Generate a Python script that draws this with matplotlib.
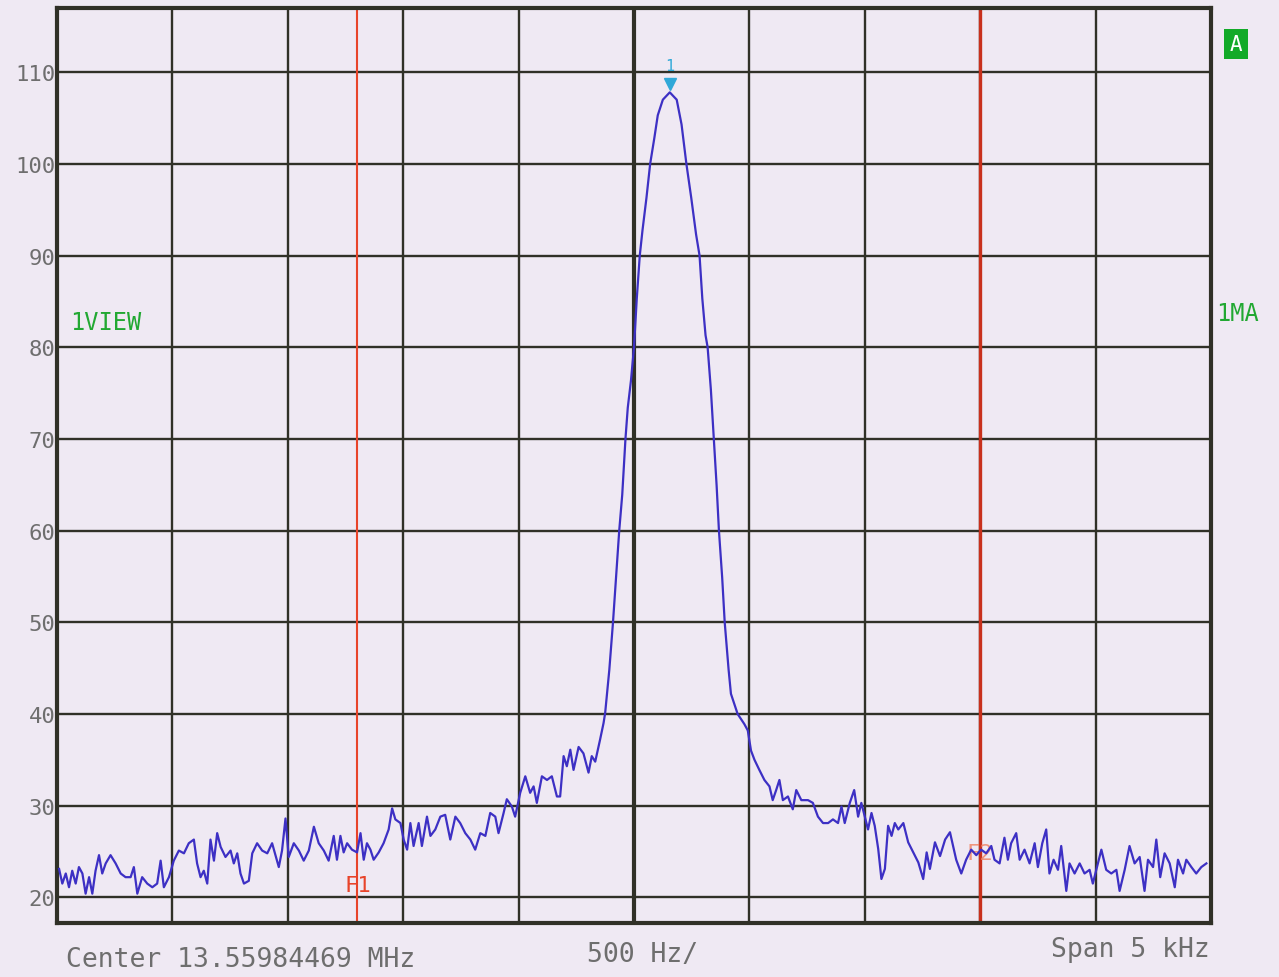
import matplotlib
matplotlib.use("Agg")
import matplotlib.pyplot as plt

# ---- data (offset from center frequency in Hz, level in dB) ----
freq_hz = [
    -2491, -2477, -2462, -2448, -2434, -2419, -2405, -2390, -2376, -2361, -2347, -2333, -2318, -2304, -2289,
    -2268, -2246, -2224, -2203, -2181, -2167, -2152, -2131, -2109, -2087, -2066, -2051, -2037, -2015, -1994,
    -1972, -1950, -1929, -1907, -1893, -1878, -1864, -1849, -1835, -1820, -1806, -1791, -1770, -1748, -1734,
    -1719, -1705, -1690, -1669, -1654, -1633, -1611, -1589, -1568, -1539, -1525, -1510, -1496, -1474, -1452,
    -1431, -1409, -1387, -1366, -1344, -1323,
    -1301, -1287, -1272, -1258, -1243, -1222, -1200, -1185, -1171, -1157, -1142, -1128, -1106, -1085, -1063,
    -1048, -1034, -1012, -998, -983, -969, -955, -933, -919, -897, -882, -861, -839, -818, -796, -774, -753,
    -731, -709, -688, -666, -644, -623, -601, -587, -565, -551, -529, -515, -493, -471, -450, -435, -421,
    -399, -377, -356, -334, -320, -305, -291, -276, -262, -240, -219, -197, -183, -168, -147, -132, -125,
    -107, -91, -78, -64, -51, -37, -27, -13, 0, 12, 25, 37, 54, 70, 88, 103, 125, 155, 185, 206, 227, 248,
    269, 284, 296, 310, 319, 333, 346, 358, 368, 382, 393, 410,
    420, 449, 478, 493, 507, 522, 543, 565, 587, 601, 616, 630, 645, 667, 688, 703, 725, 754, 775, 797, 819,
    841, 862, 884, 899, 913, 935, 954, 971, 985, 1000, 1014, 1029, 1043, 1058, 1072, 1087, 1101, 1116, 1130,
    1145, 1167, 1188, 1210, 1232, 1253, 1268, 1282, 1304, 1326, 1348, 1369,
    1396, 1418, 1439, 1461, 1483, 1504, 1526, 1548, 1562, 1584, 1605, 1620, 1634, 1656, 1671, 1692, 1714,
    1736, 1750, 1769, 1786, 1800, 1818, 1837, 1851, 1873, 1887, 1909, 1931, 1952, 1974, 1988, 2010, 2025,
    2046, 2068, 2090, 2104, 2126, 2147, 2169, 2191, 2212, 2227, 2249, 2263, 2280, 2299, 2321, 2343, 2357,
    2379, 2393, 2415, 2436, 2458, 2480,
]
level_db = [
    23.1, 21.5, 22.6, 21.1, 22.9, 21.5, 23.3, 22.6, 20.4, 22.2, 20.4, 22.9, 24.6, 22.6, 23.7,
    24.6, 23.7, 22.6, 22.2, 22.2, 23.3, 20.4, 22.2, 21.5, 21.1, 21.5, 24.0, 21.1, 22.2, 24.0,
    25.1, 24.8, 25.9, 26.3, 23.7, 22.2, 22.9, 21.5, 26.3, 24.0, 27.0, 25.5, 24.4, 25.1, 23.7,
    24.8, 22.6, 21.5, 21.8, 24.8, 25.9, 25.1, 24.8, 25.9, 23.3, 25.1, 28.6, 24.4, 25.9, 25.1,
    24.0, 25.1, 27.7, 25.9, 25.1, 24.0,
    26.7, 24.1, 26.7, 24.9, 25.9, 25.2, 24.9, 27.0, 24.1, 25.9, 25.2, 24.1, 24.9, 25.9, 27.4,
    29.7, 28.5, 28.1, 26.3, 25.2, 28.1, 25.6, 28.1, 25.6, 28.8, 26.7, 27.4, 28.8, 29.0, 26.3, 28.8, 28.1,
    27.0, 26.3, 25.2, 27.0, 26.7, 29.2, 28.8, 27.0, 29.2, 30.7, 29.9, 28.8, 31.4, 33.2, 31.4, 32.1, 30.3,
    33.2, 32.8, 33.2, 31.0, 31.0, 35.4, 34.3, 36.1, 33.9, 36.4, 35.7, 33.6, 35.4, 34.8, 37.2, 39.0, 40.1,
    44.8, 50.0, 54.9, 60.0, 63.9, 70.0, 73.4, 76.4, 80.0, 85.3, 90.0, 92.8, 96.3, 100.0, 102.8, 105.3, 107.0,
    107.8, 107.0, 104.3, 100.0, 96.3,
    92.3, 90.0, 85.3, 81.3, 80.0, 75.4, 70.0, 64.9, 60.0, 54.9, 50.0, 44.8,
    42.2, 40.0, 38.9, 38.2, 36.0, 35.0, 33.9, 32.8, 32.1, 30.6, 31.7, 32.8, 30.6, 31.0, 29.6, 31.7, 30.6,
    30.6, 30.3, 28.8, 28.1, 28.1, 28.5, 28.1, 29.9, 28.1, 30.3, 31.7, 28.8, 30.3, 28.8, 27.4, 29.2, 27.8,
    25.3, 22.0, 23.1, 27.8, 26.7, 28.1, 27.4, 28.1, 26.0, 24.9, 23.8, 22.0, 24.9, 23.1, 26.0, 24.5, 26.3,
    27.1,
    24.1, 22.6, 24.1, 25.2, 24.6, 25.2, 24.8, 25.6, 24.1, 23.7, 26.5, 24.1, 25.9, 27.0, 24.1, 25.2, 23.7,
    25.9, 23.3, 25.9, 27.4, 22.6, 24.1, 23.0, 25.6, 20.7, 23.7, 22.6, 23.7, 22.6, 23.0, 21.5, 23.7, 25.2,
    23.0, 22.6, 23.0, 20.7, 23.0, 25.6, 23.7, 24.4, 20.7, 24.1, 23.3, 26.3, 22.2, 24.8, 23.7, 21.1, 24.1,
    22.6, 24.1, 23.3, 22.6, 23.3, 23.7,
]
y_ticks = [20, 30, 40, 50, 60, 70, 80, 90, 100, 110]
x_grid_hz = [-2500, -2000, -1500, -1000, -500, 0, 500, 1000, 1500, 2000, 2500]
marker_f1_hz = -1200
marker_f2_hz = 1500
peak_hz = 155
peak_db = 107.8

# ---- style ----
paper = '#efe9f3'
grid_c = '#303027'
trace_c = '#3d30c4'
text_gray = '#6e6e6e'
green = '#22a832'
red = '#e8442a'
mono = ['DejaVu Sans Mono']

fig = plt.figure(figsize=(12.79, 9.78), dpi=100, facecolor=paper)
ax = fig.add_axes([57/1279, 1 - 924/978, (1211 - 57)/1279, (924 - 9)/978])
ax.set_facecolor(paper)
ax.set_xlim(-2500, 2500)
ax.set_ylim(17.2, 117.0)

for yv in y_ticks:
    ax.axhline(yv, color=grid_c, lw=1.7, zorder=1)
for xv in x_grid_hz:
    ax.axvline(xv, color=grid_c, lw=3.0 if xv == 0 else 1.7, zorder=1)

for s in ax.spines.values():
    s.set_color(grid_c)
    s.set_linewidth(3.0)

# marker lines
ax.axvline(marker_f1_hz, color=red, lw=1.5, zorder=2)
ax.axvline(marker_f2_hz, color='#c8301c', lw=2.4, zorder=2)

# trace
ax.plot(freq_hz, level_db, color=trace_c, lw=1.6, zorder=3)

# peak marker
ax.plot([peak_hz], [peak_db + 0.9], marker='v', color='#2fa8d8', ms=8, zorder=4, clip_on=False)
ax.text(peak_hz, peak_db + 2.1, '1', color='#2fa8d8', fontsize=11, ha='center', va='bottom',
        family=mono, zorder=4)

# F labels
ax.text(marker_f1_hz + 5, 21.3, 'F1', color=red, fontsize=16, ha='center', va='center', family=mono, zorder=4)
ax.text(marker_f2_hz, 24.8, 'F2', color='#f08060', fontsize=16, ha='center', va='center', family=mono,
        alpha=0.8, zorder=2)

ax.set_xticks([])
ax.set_yticks(y_ticks)
ax.set_yticklabels([str(v) for v in y_ticks], color=text_gray, fontsize=16, family=mono)
ax.tick_params(axis='y', length=0, pad=1)

# annotations outside the grid
fig.text(66/1279, 1 - 960/978, 'Center 13.55984469 MHz', color=text_gray, fontsize=19, family=mono,
         ha='left', va='center')
fig.text(587/1279, 1 - 955/978, '500 Hz/', color=text_gray, fontsize=19, family=mono, ha='left', va='center')
fig.text(1210/1279, 1 - 950/978, 'Span 5 kHz', color=text_gray, fontsize=19, family=mono, ha='right',
         va='center')
fig.text(70/1279, 1 - 323/978, '1VIEW', color=green, fontsize=17, family=mono, ha='left', va='center')
fig.text(1216/1279, 1 - 314/978, '1MA', color=green, fontsize=17, family=mono, ha='left', va='center')
fig.text(1236/1279, 1 - 45/978, 'A', color='white', fontsize=15, family=mono, ha='center', va='center',
         bbox=dict(boxstyle='square,pad=0.25', facecolor='#12aa28', edgecolor='none'))

fig.savefig('out.png', dpi=100, facecolor=paper)
